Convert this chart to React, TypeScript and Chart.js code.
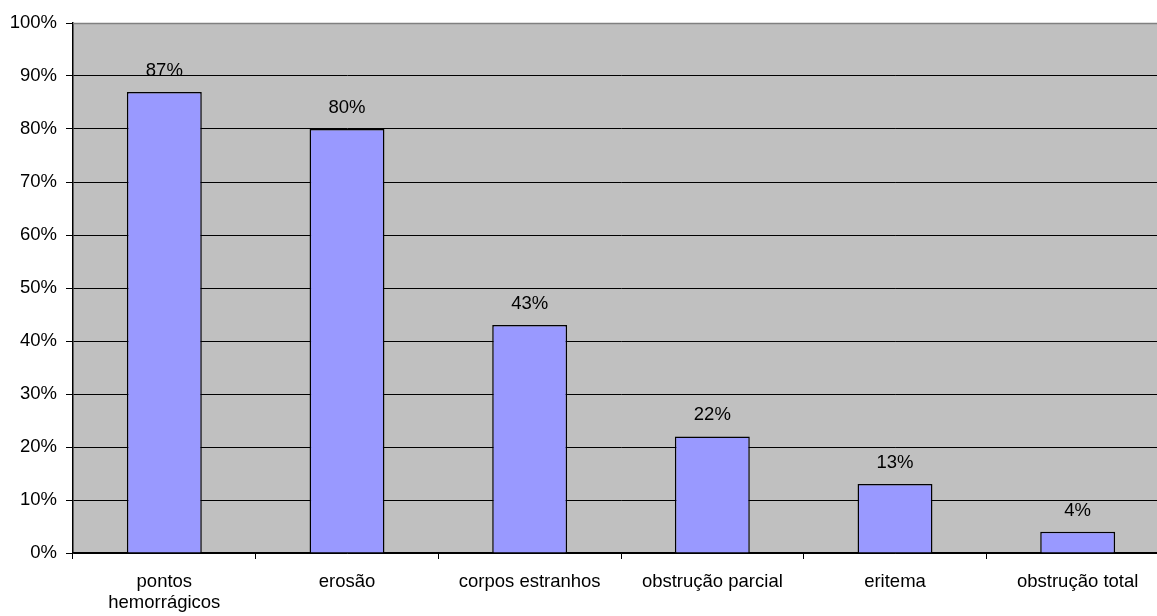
import React, { useEffect, useRef } from "react";
import { Chart, registerables } from "chart.js";

Chart.register(...registerables);

const categories: (string | string[])[] = [
  ["pontos", "hemorrágicos"],
  "erosão",
  "corpos estranhos",
  "obstrução parcial",
  "eritema",
  "obstrução total",
];
const percentages = [87, 80, 43, 22, 13, 4];
const yTicks = [0, 10, 20, 30, 40, 50, 60, 70, 80, 90, 100];

const FONT = "'Liberation Sans', Arial, sans-serif";
const FONT_SIZE = 18.5;

// Gray plot background with a darker top frame line.
const plotFrame = {
  id: "plotFrame",
  beforeDraw(chart: any) {
    const { ctx, chartArea: a } = chart;
    ctx.save();
    ctx.fillStyle = "#c0c0c0";
    ctx.fillRect(a.left, a.top, a.right - a.left, a.bottom - a.top);
    ctx.restore();
  },
  afterDraw(chart: any) {
    const { ctx, chartArea: a } = chart;
    ctx.save();
    ctx.strokeStyle = "#808080";
    ctx.lineWidth = 1.5;
    ctx.beginPath();
    ctx.moveTo(a.left, a.top + 0.5);
    ctx.lineTo(a.right, a.top + 0.5);
    ctx.stroke();
    ctx.restore();
  },
};

// Percentage label above each bar.
const valueLabels = {
  id: "valueLabels",
  afterDatasetsDraw(chart: any) {
    const { ctx } = chart;
    const meta = chart.getDatasetMeta(0);
    ctx.save();
    ctx.fillStyle = "#000";
    ctx.font = `${FONT_SIZE}px ${FONT}`;
    ctx.textAlign = "center";
    ctx.textBaseline = "middle";
    meta.data.forEach((bar: any, i: number) => {
      ctx.fillText(`${percentages[i]}%`, bar.x, bar.y - 21);
    });
    ctx.restore();
  },
};

export default function App() {
  const canvasRef = useRef<HTMLCanvasElement>(null);

  useEffect(() => {
    if (!canvasRef.current) return;
    const chart = new Chart(canvasRef.current, {
      type: "bar",
      data: {
        labels: categories,
        datasets: [
          {
            data: percentages,
            backgroundColor: "#9999ff",
            borderColor: "#000000",
            borderWidth: 1.5,
            categoryPercentage: 1,
            barPercentage: 0.41,
          },
        ],
      },
      options: {
        animation: false,
        responsive: false,
        maintainAspectRatio: false,
        layout: { padding: { top: 23, right: 1, left: 0, bottom: 0 } },
        plugins: {
          legend: { display: false },
          tooltip: { enabled: false },
        },
        scales: {
          x: {
            offset: true,
            grid: {
              offset: true,
              drawOnChartArea: false,
              color: "#000",
              tickLength: 6,
              tickWidth: 1,
            },
            border: { color: "#000", width: 1.5 },
            ticks: {
              color: "#000",
              font: { family: FONT, size: FONT_SIZE, lineHeight: 1.14 },
              padding: 12,
              maxRotation: 0,
              autoSkip: false,
            },
            afterFit(scale: any) {
              scale.height = 63;
            },
          },
          y: {
            min: 0,
            max: 100,
            afterBuildTicks(scale: any) {
              scale.ticks = yTicks.map((v) => ({ value: v }));
            },
            grid: {
              color: (c: any) => (c.tick && c.tick.value === 100 ? "rgba(0,0,0,0)" : "#000"),
              tickColor: "#000",
              tickLength: 7,
              lineWidth: 1,
            },
            border: { color: "#000", width: 1.5 },
            ticks: {
              color: "#000",
              font: { family: FONT, size: FONT_SIZE },
              padding: 9,
              callback: (v: any) => `${v}%`,
            },
            afterFit(scale: any) {
              scale.width = 73;
            },
          },
        },
      },
      plugins: [plotFrame, valueLabels],
    });
    return () => chart.destroy();
  }, []);

  return (
    <div
      style={{
        position: "fixed",
        left: 0,
        top: 0,
        width: 1157,
        height: 616,
        overflow: "hidden",
        background: "#fff",
      }}
    >
      <canvas ref={canvasRef} width={1170} height={616} style={{ width: 1170, height: 616, display: "block" }} />
    </div>
  );
}
